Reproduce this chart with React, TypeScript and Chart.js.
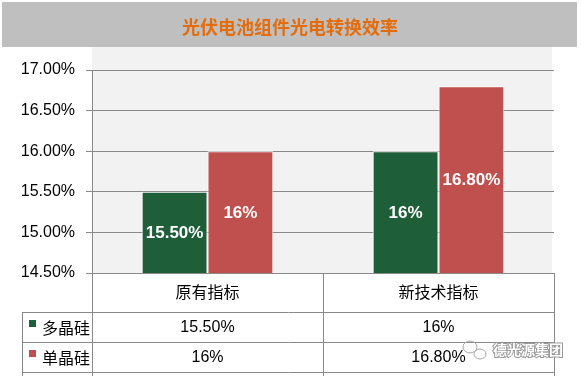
import React, { useEffect, useRef } from "react";
import { Chart, registerables } from "chart.js";

Chart.register(...registerables);

const TITLE = "光伏电池组件光电转换效率";
const categories = ["原有指标", "新技术指标"];
const seriesNames = ["多晶硅", "单晶硅"];
const polyValues = [15.5, 16];
const monoValues = [16, 16.8];
const polyLabels = ["15.50%", "16%"];
const monoLabels = ["16%", "16.80%"];
const yMin = 14.5;
const yMax = 17;
const yStep = 0.5;
const WATERMARK = "德光源集团";

const seriesColors = ["#1e5e38", "#c0504d"];
const valueLabels = [polyLabels, monoLabels];
const seriesValues = [polyValues, monoValues];

const LATIN = "'Liberation Sans', 'Noto Sans CJK SC', sans-serif";
const CJK = "'Noto Sans CJK SC', 'Liberation Sans', sans-serif";
const LINE = "#898989";

const decorPlugin = {
  id: "decor",
  beforeDraw(chart: any) {
    const ctx = chart.ctx;
    const ca = chart.chartArea;
    ctx.save();
    ctx.fillStyle = "#bfbfbf";
    ctx.fillRect(2, 2, 575, 45);
    ctx.fillStyle = "#f2f2f2";
    ctx.fillRect(ca.left, 47, ca.right - 2 - ca.left, ca.bottom - 47);
    ctx.fillStyle = "#e46c0a";
    ctx.font = "bold 18px " + CJK;
    ctx.textAlign = "center";
    ctx.textBaseline = "middle";
    ctx.fillText(TITLE, 290, 27);
    ctx.restore();
  },
  afterDraw(chart: any) {
    const ctx = chart.ctx;
    const ca = chart.chartArea;
    const xs = chart.scales.x;
    const ys = chart.scales.y;

    // value labels inside bars
    ctx.save();
    ctx.font = "bold 17px " + LATIN;
    ctx.textAlign = "center";
    ctx.textBaseline = "middle";
    ctx.fillStyle = "#ffffff";
    const basePx = ys.getPixelForValue(yMin);
    for (let di = 0; di < seriesValues.length; di++) {
      const meta = chart.getDatasetMeta(di);
      for (let i = 0; i < seriesValues[di].length; i++) {
        const el: any = meta.data[i];
        let cx = el && typeof el.x === "number" && isFinite(el.x) ? el.x : NaN;
        if (!isFinite(cx)) {
          const w = ((ca.right - ca.left) / categories.length) * 0.57 / 2;
          cx = xs.getPixelForValue(i) + (di === 0 ? -w / 2 : w / 2);
        }
        const topPx = ys.getPixelForValue(seriesValues[di][i]);
        const cy = (topPx + basePx) / 2 + 1;
        ctx.fillText(String(valueLabels[di][i]), cx, cy);
      }
    }
    ctx.restore();

    const top = ca.bottom;
    const bottomEdge = chart.height;
    const headerH = 38.5;
    const rowH = 30.3;
    const tableLeft = 22;
    const colXs = categories.map((_, i) => xs.getPixelForValue(i));
    const divider = Math.round((colXs[0] + colXs[1]) / 2) + 0.5;
    const left = Math.round(ca.left) + 0.5;
    const right = Math.round(ca.right) + 0.5;
    ctx.save();
    ctx.strokeStyle = LINE;
    ctx.lineWidth = 1;
    ctx.beginPath();
    [left, divider, right].forEach((x) => {
      ctx.moveTo(x, top);
      ctx.lineTo(x, bottomEdge);
    });
    const r1 = Math.round(top + headerH) + 0.5;
    ctx.moveTo(tableLeft + 0.5, r1);
    ctx.lineTo(tableLeft + 0.5, bottomEdge);
    for (let k = 0; k <= seriesNames.length; k++) {
      const y = Math.round(top + headerH + k * rowH) + 0.5;
      ctx.moveTo(tableLeft, y);
      ctx.lineTo(right + 0.5, y);
    }
    ctx.stroke();

    ctx.fillStyle = "#000000";
    ctx.textAlign = "center";
    ctx.textBaseline = "middle";
    ctx.font = "16px " + CJK;
    categories.forEach((c, i) => {
      ctx.fillText(c, colXs[i], top + headerH / 2);
    });
    ctx.font = "16px " + LATIN;
    valueLabels.forEach((labels, s) => {
      const cy = top + headerH + s * rowH + rowH / 2;
      labels.forEach((t, i) => {
        ctx.fillText(t, colXs[i], cy + 1);
      });
    });
    seriesNames.forEach((n, s) => {
      const cy = top + headerH + s * rowH + rowH / 2;
      ctx.fillStyle = seriesColors[s];
      ctx.fillRect(29, Math.round(cy - 7), 7, 7);
      ctx.fillStyle = "#000000";
      ctx.textAlign = "left";
      ctx.font = "16px " + CJK;
      ctx.fillText(n, 42, cy + 1);
    });

    // watermark
    ctx.strokeStyle = "#a6a6a6";
    ctx.lineWidth = 1;
    ctx.beginPath();
    ctx.ellipse(470, 347, 7, 6, 0, 0, Math.PI * 2);
    ctx.stroke();
    ctx.beginPath();
    ctx.ellipse(480, 354, 6, 5, 0, 0, Math.PI * 2);
    ctx.stroke();
    ctx.font = "bold 14px " + CJK;
    ctx.textAlign = "left";
    ctx.lineWidth = 2;
    ctx.strokeStyle = "#9a9a9a";
    ctx.strokeText(WATERMARK, 493, 350);
    ctx.fillStyle = "#ffffff";
    ctx.fillText(WATERMARK, 493, 350);
    ctx.restore();
  },
};

export default function App() {
  const ref = useRef<HTMLCanvasElement | null>(null);
  useEffect(() => {
    if (!ref.current) return;
    const chart = new Chart(ref.current, {
      type: "bar",
      data: {
        labels: categories,
        datasets: [
          {
            label: seriesNames[0],
            data: polyValues,
            backgroundColor: seriesColors[0],
            borderColor: "#ffffff",
            borderWidth: 1,
            categoryPercentage: 0.57,
            barPercentage: 1,
          },
          {
            label: seriesNames[1],
            data: monoValues,
            backgroundColor: seriesColors[1],
            borderColor: "#ffffff",
            borderWidth: 1,
            categoryPercentage: 0.57,
            barPercentage: 1,
          },
        ],
      },
      options: {
        responsive: false,
        animation: false,
        devicePixelRatio: 1,
        layout: { padding: { top: 70, bottom: 103, left: 0, right: 27 } },
        plugins: {
          legend: { display: false },
          title: { display: false },
          tooltip: { enabled: false },
        },
        scales: {
          x: { display: false },
          y: {
            min: yMin,
            max: yMax,
            afterFit: (s: any) => {
              s.width = 92;
            },
            ticks: {
              stepSize: yStep,
              padding: 11,
              color: "#000000",
              font: { family: LATIN, size: 16 },
              callback: (v: any) => Number(v).toFixed(2) + "%",
            },
            grid: { color: LINE, lineWidth: 1, tickLength: 6, drawTicks: true },
            border: { display: true, color: LINE },
          },
        },
      },
      plugins: [decorPlugin],
    });
    return () => chart.destroy();
  }, []);
  return (
    <div style={{ position: "fixed", left: 0, top: 0, width: 581, height: 376, background: "#fff" }}>
      <canvas ref={ref} width={581} height={376} style={{ display: "block" }} />
    </div>
  );
}
